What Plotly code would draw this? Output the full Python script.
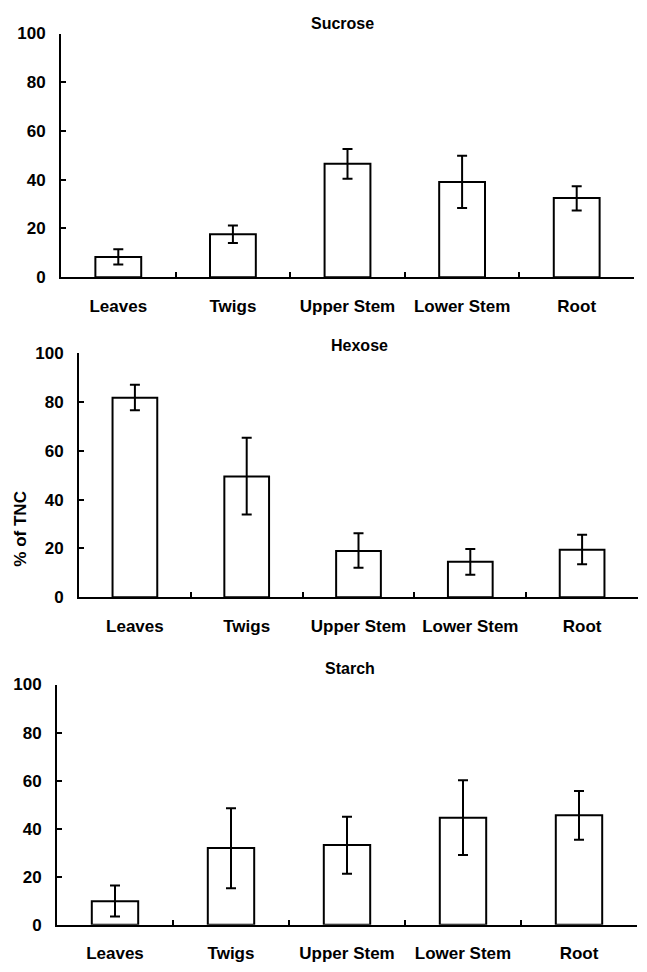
import plotly.graph_objects as go

categories = ["Leaves", "Twigs", "Upper Stem", "Lower Stem", "Root"]

sucrose_mean = [8.3, 17.6, 46.5, 39.1, 32.5]
sucrose_hi = [11.5, 21.2, 52.6, 49.8, 37.3]
sucrose_lo = [5.2, 14.0, 40.4, 28.4, 27.4]

hexose_mean = [81.7, 49.5, 19.0, 14.5, 19.5]
hexose_hi = [87.1, 65.3, 26.2, 19.8, 25.6]
hexose_lo = [76.6, 33.9, 12.1, 9.2, 13.5]

starch_mean = [9.8, 31.9, 33.2, 44.5, 45.6]
starch_hi = [16.3, 48.5, 45.0, 60.1, 55.7]
starch_lo = [3.4, 15.2, 21.2, 29.0, 35.4]

panel_titles = ["Sucrose", "Hexose", "Starch"]
y_title = "% of TNC"
y_ticks = [0, 20, 40, 60, 80, 100]

W, H = 647, 972
FONT = "Liberation Sans, Arial, sans-serif"

# pixel geometry of each panel: (x_left, x_right, y_zero, y_hundred)
panels_px = [
    (61, 634, 273.5, 25),
    (79, 638, 600, 351),
    (57, 637, 934, 689),
]
title_px = [(342, 15), (359, 343), (350, 673)]

data_sets = [
    (sucrose_mean, sucrose_hi, sucrose_lo),
    (hexose_mean, hexose_hi, hexose_lo),
    (starch_mean, starch_hi, starch_lo),
]

fig = go.Figure()
layout = dict(
    width=W, height=H,
    margin=dict(l=0, r=0, t=0, b=0),
    paper_bgcolor="white", plot_bgcolor="white",
    showlegend=False,
    font=dict(family=FONT, size=17, color="black"),
    annotations=[],
)

for i, ((m, hi, lo), (xl, xr, y0, y100)) in enumerate(zip(data_sets, panels_px)):
    n = "" if i == 0 else str(i + 1)
    plus = [h - v for h, v in zip(hi, m)]
    minus = [v - l for v, l in zip(m, lo)]
    fig.add_trace(go.Bar(
        x=categories, y=m,
        xaxis="x" + n, yaxis="y" + n,
        width=0.4,
        marker=dict(color="white", line=dict(color="black", width=2)),
        error_y=dict(type="data", symmetric=False, array=plus, arrayminus=minus,
                     color="black", thickness=2, width=5),
    ))
    layout["xaxis" + n] = dict(
        domain=[xl / W, xr / W], anchor="y" + n,
        type="category", range=[-0.5, 4.5],
        tickson="boundaries", ticks="inside", ticklen=5, tickwidth=1.5, tickcolor="black",
        showline=True, linecolor="black", linewidth=2,
        showgrid=False, zeroline=False,
        ticklabelstandoff=12,
        tickfont=dict(family=FONT, size=17, color="black", weight="bold"),
    )
    layout["yaxis" + n] = dict(
        domain=[1 - y0 / H, 1 - y100 / H], anchor="x" + n,
        range=[0, 100], tickvals=y_ticks,
        ticks="inside", ticklen=5, tickwidth=1.5, tickcolor="black",
        showline=True, linecolor="black", linewidth=2,
        showgrid=False, zeroline=False,
        ticklabelstandoff=10,
        tickfont=dict(family=FONT, size=17, color="black", weight="bold"),
    )
    tx, ty = title_px[i]
    layout["annotations"].append(dict(
        text=panel_titles[i], xref="paper", yref="paper",
        x=tx / W, y=1 - ty / H, xanchor="center", yanchor="middle",
        showarrow=False, font=dict(family=FONT, size=16, color="black", weight="bold"),
    ))

layout["annotations"].append(dict(
    text=y_title, xref="paper", yref="paper",
    x=21 / W, y=1 - 530 / H, xanchor="center", yanchor="middle",
    textangle=-90, showarrow=False,
    font=dict(family=FONT, size=17, color="black", weight="bold"),
))

fig.update_layout(**layout)
fig.write_html("out.html")
